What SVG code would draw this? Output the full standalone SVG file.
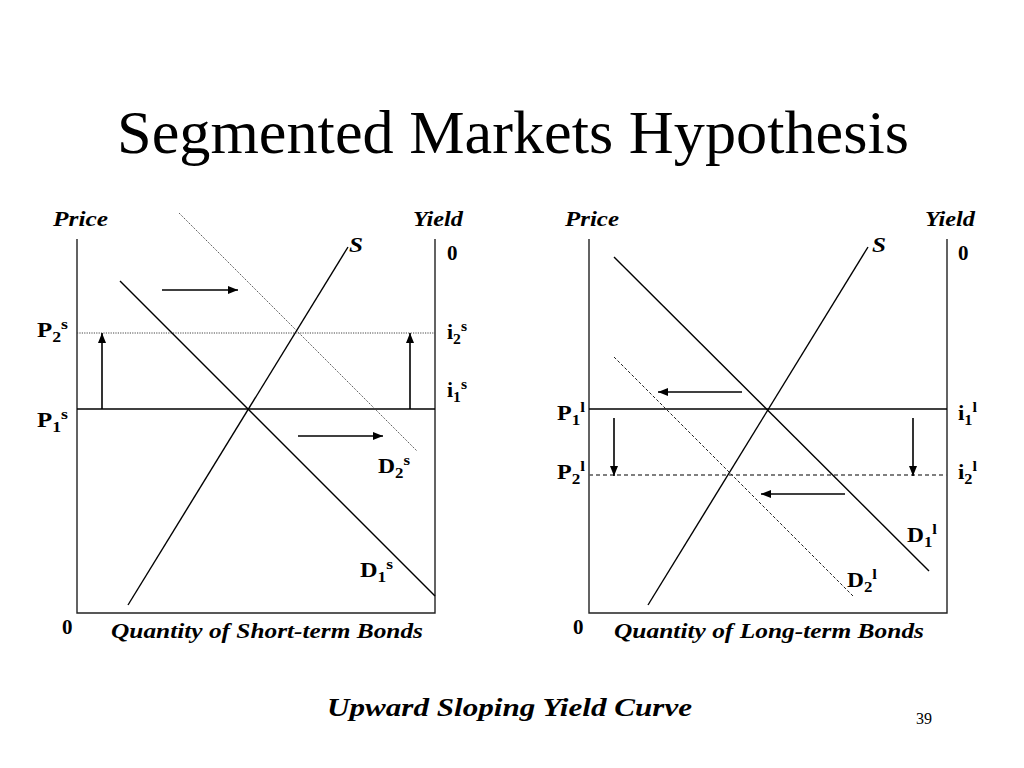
<svg xmlns="http://www.w3.org/2000/svg" width="1024" height="768" viewBox="0 0 1024 768">
<defs>
<marker id="ah" viewBox="0 0 10 8" refX="10" refY="4" markerWidth="10" markerHeight="8" markerUnits="userSpaceOnUse" orient="auto">
<path d="M0,0 L10,4 L0,8 Z" fill="#000"/>
</marker>
<style>
text{font-family:"Liberation Serif","Times New Roman",serif;fill:#000}
.title{font-size:62px}
.ax{font-size:21px;font-weight:bold;font-style:italic}
.lab{font-size:21px;font-weight:bold}
.sm{font-size:15px}
.foot{font-size:25px;font-weight:bold;font-style:italic}
.pg{font-size:16px}
.axis{stroke:#222;stroke-width:1.4;fill:none}
.curve{stroke:#000;stroke-width:1.4;fill:none}
.dot{stroke:#444;stroke-width:1;stroke-dasharray:1.2 1.2;fill:none}
.dash{stroke:#555;stroke-width:1.5;stroke-dasharray:4 3;fill:none}
.dash2{stroke:#222;stroke-width:1;stroke-dasharray:3 2;fill:none}
.arr{stroke:#000;stroke-width:1.6;fill:none;marker-end:url(#ah)}
</style>
</defs>
<rect width="1024" height="768" fill="#fff"/>
<text class="title" x="117" y="153" textLength="792" lengthAdjust="spacingAndGlyphs">Segmented Markets Hypothesis</text>

<g id="left-panel">
<g id="left-axes">
<path class="axis" d="M77,239 V613 H435 V239"/>
</g>
<g id="left-connectors">
<line class="curve" x1="77" y1="409" x2="435" y2="409"/>
<line class="dot" x1="77" y1="333" x2="435" y2="333"/>
<line class="curve" x1="120" y1="281" x2="435" y2="596"/>
<line class="dot" x1="179" y1="213" x2="417" y2="451"/>
<line class="curve" x1="128" y1="605" x2="348" y2="247"/>
<line class="arr" x1="162" y1="290" x2="238" y2="290"/>
<line class="arr" x1="298" y1="436" x2="383" y2="436"/>
<line class="arr" x1="102" y1="409" x2="102" y2="333"/>
<line class="arr" x1="410" y1="409" x2="410" y2="333"/>
</g>
<g id="left-labels">
<text class="ax" x="53" y="226" textLength="55" lengthAdjust="spacingAndGlyphs">Price</text>
<text class="ax" x="413" y="226" textLength="50" lengthAdjust="spacingAndGlyphs">Yield</text>
<text class="ax" x="349" y="252" textLength="14" lengthAdjust="spacingAndGlyphs">S</text>
<text class="lab" x="447" y="260">0</text>
<text class="lab" x="37" y="337" textLength="31" lengthAdjust="spacingAndGlyphs">P<tspan class="sm" dy="5">2</tspan><tspan class="sm" dy="-13">s</tspan></text>
<text class="lab" x="37" y="427" textLength="31" lengthAdjust="spacingAndGlyphs">P<tspan class="sm" dy="5">1</tspan><tspan class="sm" dy="-13">s</tspan></text>
<text class="lab" x="447" y="339" textLength="20" lengthAdjust="spacingAndGlyphs">i<tspan class="sm" dy="5">2</tspan><tspan class="sm" dy="-13">s</tspan></text>
<text class="lab" x="447" y="397" textLength="20" lengthAdjust="spacingAndGlyphs">i<tspan class="sm" dy="5">1</tspan><tspan class="sm" dy="-13">s</tspan></text>
<text class="lab" x="378" y="473" textLength="32" lengthAdjust="spacingAndGlyphs">D<tspan class="sm" dy="5">2</tspan><tspan class="sm" dy="-13">s</tspan></text>
<text class="lab" x="360" y="577" textLength="33" lengthAdjust="spacingAndGlyphs">D<tspan class="sm" dy="5">1</tspan><tspan class="sm" dy="-13">s</tspan></text>
<text class="lab" x="62" y="634">0</text>
<text class="ax" x="111" y="638" textLength="312" lengthAdjust="spacingAndGlyphs">Quantity of Short-term Bonds</text>
</g>
</g>

<g id="right-panel">
<g id="right-axes">
<path class="axis" d="M589,239 V613 H947 V239"/>
</g>
<g id="right-connectors">
<line class="curve" x1="589" y1="409" x2="947" y2="409"/>
<line class="dash" x1="589" y1="475" x2="947" y2="475"/>
<line class="curve" x1="614" y1="257" x2="929" y2="571"/>
<line class="dash2" x1="614" y1="357" x2="853" y2="596"/>
<line class="curve" x1="648" y1="605" x2="868" y2="247"/>
<line class="arr" x1="742" y1="392" x2="658" y2="392"/>
<line class="arr" x1="845" y1="494" x2="761" y2="494"/>
<line class="arr" x1="614" y1="418" x2="614" y2="476"/>
<line class="arr" x1="913" y1="418" x2="913" y2="476"/>
</g>
<g id="right-labels">
<text class="ax" x="565" y="226" textLength="54" lengthAdjust="spacingAndGlyphs">Price</text>
<text class="ax" x="925" y="226" textLength="50" lengthAdjust="spacingAndGlyphs">Yield</text>
<text class="ax" x="872" y="252" textLength="14" lengthAdjust="spacingAndGlyphs">S</text>
<text class="lab" x="958" y="260">0</text>
<text class="lab" x="557" y="420" textLength="28" lengthAdjust="spacingAndGlyphs">P<tspan class="sm" dy="5">1</tspan><tspan class="sm" dy="-13">l</tspan></text>
<text class="lab" x="557" y="479" textLength="28" lengthAdjust="spacingAndGlyphs">P<tspan class="sm" dy="5">2</tspan><tspan class="sm" dy="-13">l</tspan></text>
<text class="lab" x="958" y="420" textLength="19" lengthAdjust="spacingAndGlyphs">i<tspan class="sm" dy="5">1</tspan><tspan class="sm" dy="-13">l</tspan></text>
<text class="lab" x="958" y="479" textLength="19" lengthAdjust="spacingAndGlyphs">i<tspan class="sm" dy="5">2</tspan><tspan class="sm" dy="-13">l</tspan></text>
<text class="lab" x="907" y="542" textLength="30" lengthAdjust="spacingAndGlyphs">D<tspan class="sm" dy="5">1</tspan><tspan class="sm" dy="-13">l</tspan></text>
<text class="lab" x="847" y="587" textLength="30" lengthAdjust="spacingAndGlyphs">D<tspan class="sm" dy="5">2</tspan><tspan class="sm" dy="-13">l</tspan></text>
<text class="lab" x="573" y="634">0</text>
<text class="ax" x="614" y="638" textLength="310" lengthAdjust="spacingAndGlyphs">Quantity of Long-term Bonds</text>
</g>
</g>

<text class="foot" x="327" y="716" textLength="365" lengthAdjust="spacingAndGlyphs">Upward Sloping Yield Curve</text>
<text class="pg" x="916" y="724">39</text>
</svg>
